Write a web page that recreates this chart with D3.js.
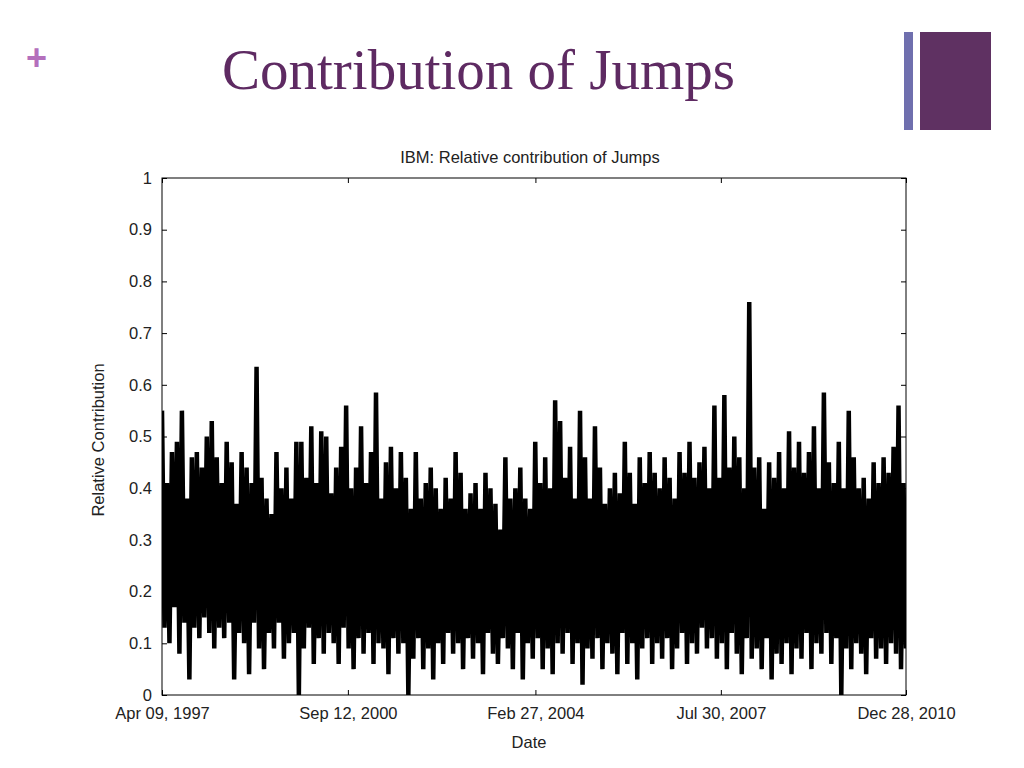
<!DOCTYPE html>
<html><head><meta charset="utf-8">
<script src="https://cdn.jsdelivr.net/npm/d3@7"></script>
<style>body{margin:0;background:#fff}svg{display:block}</style>
</head><body><svg id="c" width="1024" height="768"></svg>
<script>
const highs=[0.55,0.41,0.47,0.49,0.55,0.38,0.46,0.47,0.44,0.50,0.53,0.46,0.41,0.49,0.45,0.37,0.47,0.44,0.41,0.635,
0.42,0.38,0.35,0.47,0.40,0.44,0.38,0.49,0.49,0.42,0.52,0.41,0.51,0.50,0.39,0.44,0.48,0.56,0.40,0.44,
0.52,0.41,0.47,0.585,0.38,0.45,0.48,0.40,0.47,0.42,0.36,0.47,0.38,0.41,0.44,0.40,0.36,0.42,0.38,0.47,
0.43,0.36,0.39,0.41,0.36,0.43,0.40,0.37,0.32,0.46,0.38,0.40,0.44,0.38,0.36,0.49,0.41,0.46,0.40,0.57,
0.53,0.42,0.48,0.38,0.55,0.46,0.38,0.52,0.44,0.37,0.40,0.43,0.39,0.49,0.43,0.37,0.46,0.41,0.47,0.43,
0.40,0.46,0.42,0.38,0.47,0.43,0.49,0.42,0.45,0.48,0.40,0.56,0.42,0.58,0.44,0.50,0.46,0.40,0.76,0.44,
0.46,0.36,0.45,0.42,0.47,0.40,0.51,0.44,0.49,0.43,0.47,0.52,0.40,0.585,0.45,0.41,0.49,0.40,0.55,0.46,
0.40,0.42,0.38,0.45,0.41,0.46,0.43,0.48,0.56,0.41];
const lows=[0.13,0.10,0.17,0.08,0.14,0.03,0.13,0.11,0.15,0.12,0.09,0.13,0.11,0.14,0.03,0.12,0.10,0.04,0.14,0.09,
0.05,0.12,0.09,0.14,0.07,0.10,0.12,0.00,0.09,0.13,0.06,0.11,0.08,0.12,0.10,0.06,0.13,0.09,0.05,0.11,
0.08,0.12,0.06,0.10,0.09,0.04,0.11,0.08,0.10,0.00,0.07,0.11,0.05,0.09,0.03,0.10,0.06,0.12,0.08,0.10,
0.05,0.11,0.07,0.10,0.04,0.12,0.08,0.06,0.11,0.09,0.05,0.12,0.03,0.10,0.07,0.11,0.05,0.09,0.04,0.10,
0.08,0.12,0.06,0.10,0.02,0.09,0.07,0.11,0.05,0.10,0.08,0.04,0.12,0.06,0.10,0.03,0.09,0.11,0.06,0.10,
0.07,0.11,0.05,0.09,0.12,0.06,0.10,0.08,0.13,0.09,0.11,0.07,0.10,0.05,0.12,0.08,0.04,0.11,0.07,0.09,
0.05,0.11,0.03,0.08,0.06,0.10,0.04,0.09,0.07,0.12,0.05,0.10,0.08,0.12,0.06,0.11,0.00,0.09,0.05,0.10,
0.08,0.04,0.11,0.07,0.09,0.06,0.10,0.08,0.05,0.09];
const tickDates=["1997-04-09","2000-09-12","2004-02-27","2007-07-30","2010-12-28"];
const tickLabels=["Apr 09, 1997","Sep 12, 2000","Feb 27, 2004","Jul 30, 2007","Dec 28, 2010"];
const yTicks=[0,0.1,0.2,0.3,0.4,0.5,0.6,0.7,0.8,0.9,1];

const svg=d3.select("#c");
const L=162,R=906,T=178,B=695;
const t0=new Date(tickDates[0]),t1=new Date(tickDates[4]);
const x=d3.scaleTime().domain([t0,t1]).range([L,R]);
const y=d3.scaleLinear().domain([0,1]).range([B,T]);
const vals=[];highs.forEach((h,i)=>{vals.push(h);vals.push(lows[i]);});
const idx=d3.scaleLinear().domain([0,vals.length-1]).range([t0.getTime(),t1.getTime()]);
const data=vals.map((v,i)=>({d:new Date(idx(i)),v}));

svg.append("text").attr("x",26).attr("y",70).attr("font-family","Liberation Sans, Arial").attr("font-size",36).attr("font-weight","bold").attr("fill","#b46fbc").text("+");
svg.append("text").attr("x",222).attr("y",89).attr("font-family","Liberation Serif, Times New Roman, serif").attr("font-size",57).attr("fill","#5e2a62").text("Contribution of Jumps");
svg.append("rect").attr("x",904).attr("y",32).attr("width",9).attr("height",98).attr("fill","#6f6fae");
svg.append("rect").attr("x",920).attr("y",32).attr("width",71).attr("height",98).attr("fill","#5f3162");

svg.append("defs").append("clipPath").attr("id","cp").append("rect").attr("x",L).attr("y",T).attr("width",R-L).attr("height",B-T);
svg.append("path").datum(data).attr("clip-path","url(#cp)").attr("fill","none").attr("stroke","#000").attr("stroke-width",4.5)
 .attr("d",d3.line().x(d=>x(d.d)).y(d=>y(d.v)));

const font="Liberation Sans, Arial, sans-serif";
svg.append("rect").attr("x",L).attr("y",T).attr("width",R-L).attr("height",B-T).attr("fill","none").attr("stroke","#000");
const ya=svg.append("g").attr("transform",`translate(${L},0)`).call(d3.axisLeft(y).tickValues(yTicks).tickSize(-5).tickPadding(10).tickFormat(d3.format("")));
const yr=svg.append("g").attr("transform",`translate(${R},0)`).call(d3.axisRight(y).tickValues(yTicks).tickSize(-5).tickFormat(""));
const xa=svg.append("g").attr("transform",`translate(0,${B})`).call(d3.axisBottom(x).tickValues(tickDates.map(d=>new Date(d))).tickSize(-5).tickPadding(12).tickFormat((d,i)=>tickLabels[i]));
const xt=svg.append("g").attr("transform",`translate(0,${T})`).call(d3.axisTop(x).tickValues(tickDates.map(d=>new Date(d))).tickSize(-5).tickFormat(""));
[ya,yr,xa,xt].forEach(g=>{g.select(".domain").remove();g.selectAll("text").attr("font-family",font).attr("font-size",16.5).attr("fill","#222");});

svg.append("text").attr("x",530).attr("y",163).attr("text-anchor","middle").attr("font-family",font).attr("font-size",16.5).attr("fill","#222").text("IBM: Relative contribution of Jumps");
svg.append("text").attr("x",529).attr("y",748).attr("text-anchor","middle").attr("font-family",font).attr("font-size",16.5).attr("fill","#222").text("Date");
svg.append("text").attr("transform","translate(104,440) rotate(-90)").attr("text-anchor","middle").attr("font-family",font).attr("font-size",16.5).attr("fill","#222").text("Relative Contribution");
</script></body></html>
